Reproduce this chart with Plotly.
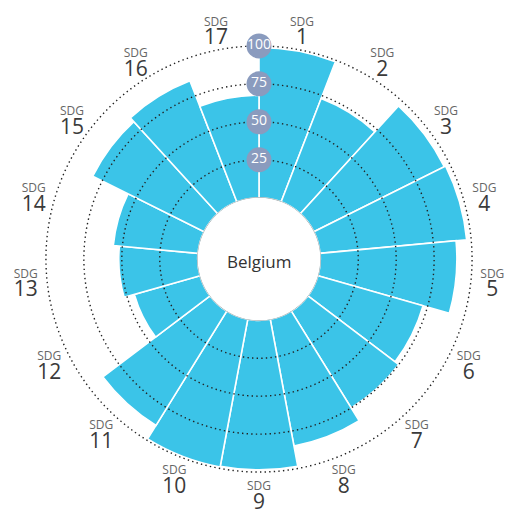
import plotly.graph_objects as go

# SDG scores for Belgium (0-100)
goals = [f"{i}" for i in range(1, 18)]
scores = [99, 73, 96, 97, 90, 72, 75, 85, 98.5, 99, 88.5, 45, 52, 56, 82, 85.5, 67.5]
ring_values = [25, 50, 75, 100]
ring_labels = ["25", "50", "75", "100"]
country = "Belgium"

n = len(goals)
step = 360 / n
thetas = [(i + 0.5) * step for i in range(n)]

BAR = "#3bc4e8"
BADGE = "#8a9bbe"
LABEL_R = 114

fig = go.Figure()

fig.add_trace(go.Barpolar(
    r=scores, theta=thetas, width=[step] * n,
    marker=dict(color=BAR, line=dict(color="white", width=1.6)),
    hoverinfo="skip", showlegend=False,
))

# dotted rings drawn over the bars
circle_theta = [k * 0.5 for k in range(721)]
for v in ring_values:
    fig.add_trace(go.Scatterpolar(
        r=[v] * len(circle_theta), theta=circle_theta, mode="lines",
        line=dict(color="#222222", width=1.4, dash="1.4px,3.2px"),
        hoverinfo="skip", showlegend=False,
    ))

# thin outline of the inner hole
fig.add_trace(go.Scatterpolar(
    r=[0] * len(circle_theta), theta=circle_theta, mode="lines",
    line=dict(color="#9a9a9a", width=1),
    hoverinfo="skip", showlegend=False,
))

# value badges on the vertical axis
fig.add_trace(go.Scatterpolar(
    r=ring_values, theta=[0] * len(ring_values), mode="markers+text",
    marker=dict(size=25, color=BADGE, line=dict(width=0)),
    text=ring_labels, textposition="middle center",
    textfont=dict(color="white", size=14, family="Open Sans"),
    hoverinfo="skip", showlegend=False,
))

# goal labels around the chart: small "SDG" above, goal number below
fig.add_trace(go.Scatterpolar(
    r=[LABEL_R] * n, theta=thetas, mode="text", text=["SDG"] * n,
    textposition="top center",
    textfont=dict(size=12, family="Open Sans", color="#666666"),
    hoverinfo="skip", showlegend=False,
))
fig.add_trace(go.Scatterpolar(
    r=[LABEL_R] * n, theta=thetas, mode="text", text=goals,
    textposition="bottom center",
    textfont=dict(size=21, family="Open Sans", color="#3a3a3a"),
    hoverinfo="skip", showlegend=False,
))

fig.update_layout(
    width=515, height=512,
    margin=dict(l=8.1, r=5.1, t=7.8, b=2.4),
    paper_bgcolor="white",
    polar=dict(
        bgcolor="white",
        hole=0.2443,
        domain=dict(x=[0, 1], y=[0, 1]),
        radialaxis=dict(range=[0, 125], visible=False),
        angularaxis=dict(
            rotation=90, direction="clockwise",
            showgrid=False, showline=False, showticklabels=False, ticks="",
        ),
    ),
    annotations=[dict(
        text=country, x=0.5, y=0.5, xref="paper", yref="paper", yshift=-2,
        showarrow=False, font=dict(size=17, family="Open Sans", color="#333333"),
    )],
)

fig.write_html("out.html")
